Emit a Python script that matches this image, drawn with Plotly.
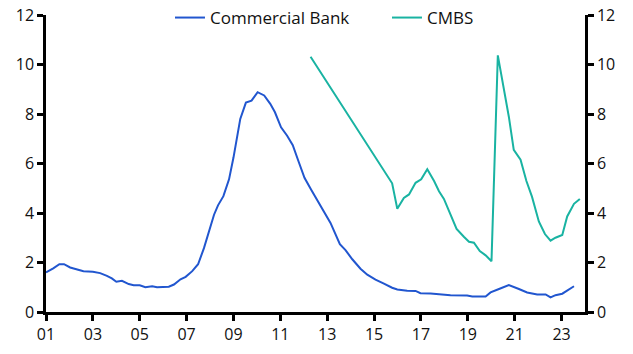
import plotly.graph_objects as go

# Commercial Bank delinquency rate (%), x as decimal years
cb_x = [2001.0, 2001.31, 2001.57, 2001.77, 2002.03, 2002.31, 2002.6, 2003.0, 2003.31, 2003.6,
        2003.81, 2004.0, 2004.24, 2004.53, 2004.74, 2005.0, 2005.24, 2005.53, 2005.74, 2006.24,
        2006.46, 2006.74, 2006.96, 2007.24, 2007.49, 2007.74, 2007.96, 2008.17, 2008.34, 2008.57,
        2008.81, 2009.0, 2009.29, 2009.53, 2009.77, 2010.03, 2010.31, 2010.57, 2010.77, 2011.03,
        2011.29, 2011.53, 2011.77, 2012.03, 2012.31, 2012.6, 2012.81, 2013.14, 2013.54, 2013.78,
        2014.07, 2014.42, 2014.71, 2015.06, 2015.42, 2015.77, 2015.99, 2016.41, 2016.77, 2016.98,
        2017.41, 2017.84, 2018.26, 2018.97, 2019.19, 2019.76, 2019.97, 2020.33, 2020.75, 2021.18,
        2021.53, 2021.96, 2022.32, 2022.53, 2022.74, 2023.03, 2023.24, 2023.53]
cb_y = [1.6, 1.76, 1.93, 1.93, 1.80, 1.74, 1.65, 1.63, 1.57, 1.46,
        1.36, 1.22, 1.26, 1.13, 1.08, 1.08, 1.0, 1.04, 1.0, 1.02,
        1.11, 1.32, 1.42, 1.65, 1.93, 2.58, 3.25, 3.93, 4.31, 4.68,
        5.36, 6.24, 7.8, 8.46, 8.54, 8.88, 8.75, 8.41, 8.07, 7.46,
        7.12, 6.74, 6.1, 5.42, 4.95, 4.47, 4.1, 3.6, 2.74, 2.5,
        2.13, 1.75, 1.51, 1.31, 1.15, 0.98, 0.91, 0.86, 0.85, 0.76,
        0.75, 0.71, 0.68, 0.67, 0.63, 0.63, 0.79, 0.93, 1.09, 0.93,
        0.79, 0.71, 0.71, 0.59, 0.68, 0.74, 0.86, 1.04]

# CMBS delinquency rate (%)
cmbs_x = [2012.29, 2015.77, 2015.99, 2016.27, 2016.49, 2016.77, 2017.01, 2017.27, 2017.56, 2017.77,
          2017.98, 2018.23, 2018.52, 2018.83, 2019.05, 2019.26, 2019.51, 2019.76, 2020.01, 2020.28,
          2020.54, 2020.75, 2020.96, 2021.25, 2021.5, 2021.74, 2022.03, 2022.29, 2022.53, 2022.74,
          2023.03, 2023.24, 2023.53, 2023.78]
cmbs_y = [10.31, 5.2, 4.17, 4.61, 4.75, 5.22, 5.36, 5.77, 5.29, 4.88,
          4.57, 4.0, 3.36, 3.04, 2.84, 2.8, 2.46, 2.29, 2.05, 10.37,
          8.98, 7.89, 6.55, 6.15, 5.29, 4.65, 3.66, 3.15, 2.88, 3.0,
          3.11, 3.86, 4.37, 4.57]

x_tickvals = [2001, 2003, 2005, 2007, 2009, 2011, 2013, 2015, 2017, 2019, 2021, 2023]
x_ticktext = ["01", "03", "05", "07", "09", "11", "13", "15", "17", "19", "21", "23"]
y_tickvals = [0, 2, 4, 6, 8, 10, 12]

FONT = "Open Sans, Noto Sans, sans-serif"
Y_DOMAIN_TOP = 297 / 312

fig = go.Figure()
fig.add_trace(go.Scatter(x=cb_x, y=cb_y, mode="lines", name="Commercial Bank",
                         line=dict(color="#2156cf", width=2)))
fig.add_trace(go.Scatter(x=cmbs_x, y=cmbs_y, mode="lines", name="CMBS", yaxis="y2",
                         line=dict(color="#19b3a2", width=2)))

axis_common = dict(showgrid=False, zeroline=False, showline=True, linecolor="black", linewidth=2.5,
                   ticks="outside", ticklen=6, tickwidth=2.5, tickcolor="black", automargin=False,
                   tickfont=dict(size=16, color="#111111"))

fig.update_layout(
    width=633, height=354,
    margin=dict(l=46, r=48, t=0, b=42),
    plot_bgcolor="white", paper_bgcolor="white",
    font=dict(family=FONT, size=16, color="#111111"),
    showlegend=True,
    legend=dict(orientation="h", x=0.23, xanchor="left", y=1.0, yanchor="top",
                font=dict(size=17), bgcolor="rgba(0,0,0,0)", tracegroupgap=0,
                entrywidth=172, entrywidthmode="pixels"),
    xaxis=dict(range=[2001, 2024], tickvals=x_tickvals, ticktext=x_ticktext, **axis_common),
    yaxis=dict(range=[0, 12], tickvals=y_tickvals, domain=[0, Y_DOMAIN_TOP], **axis_common),
    yaxis2=dict(range=[0, 12], tickvals=y_tickvals, overlaying="y", side="right", **axis_common),
)

fig.write_html("out.html")
